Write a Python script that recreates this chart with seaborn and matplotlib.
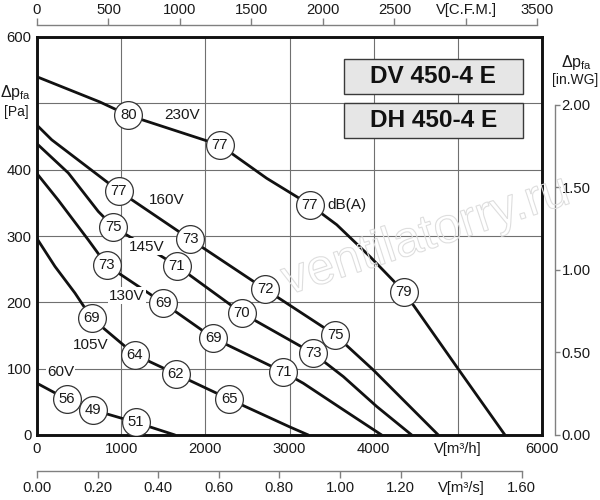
import numpy as np
import pandas as pd
import matplotlib
matplotlib.use("Agg")
import matplotlib.pyplot as plt
import seaborn as sns
from matplotlib.patches import Rectangle, PathPatch
from matplotlib.textpath import TextPath
from matplotlib.font_manager import FontProperties
from matplotlib.transforms import Affine2D, IdentityTransform

# ---------------- data ----------------
v_230 = [0, 748, 1085, 2174, 2729, 3243, 3561, 3956, 4360, 5002, 5560]
p_230 = [540, 502, 482, 437, 387, 347, 317, 269, 216, 100, 0]

v_160 = [0, 175, 971, 1821, 2709, 3541, 3996, 4768]
p_160 = [467, 445, 368, 295, 220, 151, 98, 0]

v_145 = [0, 372, 728, 907, 1663, 2432, 3283, 3640, 4036, 4452]
p_145 = [439, 395, 337, 314, 255, 184, 123, 88, 43, 0]

v_130 = [0, 253, 610, 828, 1501, 2095, 2926, 3164, 3640, 4095]
p_130 = [394, 354, 294, 256, 199, 146, 95, 78, 38, 0]

v_105 = [0, 214, 451, 650, 1164, 1651, 2285, 3006, 3224]
p_105 = [296, 254, 214, 176, 121, 92, 54, 12, 0]

v_60 = [0, 352, 661, 1176, 1640]
p_60 = [78, 54, 38, 19, 0]

# noise level markers (dB(A)) on the curves
mark_v = [1085, 2174, 3243, 4360,
          971, 1821, 2709, 3541,
          907, 1663, 2432, 3283,
          828, 1501, 2095, 2926,
          650, 1164, 1651, 2285,
          352, 661, 1176]
mark_p = [482, 437, 347, 216,
          368, 295, 220, 151,
          314, 255, 184, 123,
          256, 199, 146, 95,
          176, 121, 92, 54,
          54, 38, 19]
mark_db = ["80", "77", "77", "79",
           "77", "73", "72", "75",
           "75", "71", "70", "73",
           "73", "69", "69", "71",
           "69", "64", "62", "65",
           "56", "49", "51"]

volt_labels = ["230V", "160V", "145V", "130V", "105V", "60V"]
volt_v = [1729, 1545, 1307, 1065, 642, 279]
volt_p = [482, 354, 284, 210, 135, 94.5]

x_ticks = [0, 1000, 2000, 3000, 4000, 5000, 6000]
x_ticklabels = ["0", "1000", "2000", "3000", "4000", "V[m³/h]", "6000"]
y_ticks = [0, 100, 200, 300, 400, 500, 600]
y_ticklabels = ["0", "100", "200", "300", "400", "", "600"]
cfm_ticks = [0, 500, 1000, 1500, 2000, 2500, 3000, 3500]
cfm_ticklabels = ["0", "500", "1000", "1500", "2000", "2500", "V[C.F.M.]", "3500"]
ms_ticks = [0.0, 0.2, 0.4, 0.6, 0.8, 1.0, 1.2, 1.4, 1.6]
ms_ticklabels = ["0.00", "0.20", "0.40", "0.60", "0.80", "1.00", "1.20", "V[m³/s]", "1.60"]
wg_ticks = [0.0, 0.5, 1.0, 1.5, 2.0]
wg_ticklabels = ["0.00", "0.50", "1.00", "1.50", "2.00"]
models = ["DV 450-4 E", "DH 450-4 E"]

# ---------------- style ----------------
sns.set_style("white")
plt.rcParams["font.family"] = ["Liberation Sans", "DejaVu Sans"]
plt.rcParams["mathtext.fontset"] = "custom"
plt.rcParams["mathtext.rm"] = "Liberation Sans"
plt.rcParams["mathtext.it"] = "Liberation Sans:italic"
plt.rcParams["mathtext.bf"] = "Liberation Sans:bold"

TXT = "#1a1a1a"
GRID = "#707070"
AXG = "#808080"
FS = 10.7

curves = {"230V": (v_230, p_230), "160V": (v_160, p_160), "145V": (v_145, p_145),
          "130V": (v_130, p_130), "105V": (v_105, p_105), "60V": (v_60, p_60)}
rows = []
for name, (vv, pp) in curves.items():
    for a, b in zip(vv, pp):
        rows.append({"curve": name, "V": a, "P": b})
df = pd.DataFrame(rows)
marks = pd.DataFrame({"V": mark_v, "P": mark_p, "db": mark_db})

fig = plt.figure(figsize=(6, 5), dpi=100)
ax = fig.add_axes([37 / 600, 65 / 500, 505 / 600, 398 / 500])

sns.lineplot(data=df, x="V", y="P", hue="curve",
             palette={k: "#111111" for k in curves}, sort=False, estimator=None,
             linewidth=2.0, legend=False, ax=ax, zorder=2)
sns.scatterplot(data=marks, x="V", y="P", s=400, color="white",
                edgecolor="#333333", linewidth=0.9, ax=ax, zorder=3, legend=False)
for a, b, t in zip(mark_v, mark_p, mark_db):
    ax.text(a, b, t, ha="center", va="center", fontsize=FS, color=TXT, zorder=4)

for t, a, b in zip(volt_labels, volt_v, volt_p):
    ax.text(a, b, t, ha="center", va="center", fontsize=11, color=TXT, zorder=4,
            bbox=dict(boxstyle="square,pad=0.08", fc="white", ec="none"))
ax.text(3683, 347, "dB(A)", ha="center", va="center", fontsize=11, color=TXT, zorder=4,
        bbox=dict(boxstyle="square,pad=0.05", fc="white", ec="none"))

ax.set_xlim(0, 6000)
ax.set_ylim(0, 600)
ax.set_xticks(x_ticks)
ax.set_xticklabels(x_ticklabels)
ax.set_yticks(y_ticks)
ax.set_yticklabels(y_ticklabels)
ax.set_xlabel("")
ax.set_ylabel("")
ax.tick_params(axis="both", length=0, labelsize=FS, labelcolor=TXT)
ax.tick_params(axis="x", pad=5)
ax.tick_params(axis="y", pad=4)
ax.grid(True, color=GRID, linewidth=0.8)
ax.set_axisbelow(True)
for s in ax.spines.values():
    s.set_visible(True)
    s.set_color("#111111")
    s.set_linewidth(2.1)

# model boxes
for i, m in enumerate(models):
    y0 = [0.857, 0.746][i]
    ax.add_patch(Rectangle((0.608, y0), 0.354, 0.088, transform=ax.transAxes,
                           facecolor="#e6e6e6", edgecolor="#3a3a3a", linewidth=1.0, zorder=5))
    ax.text(0.785, y0 + 0.044, m, transform=ax.transAxes, ha="center", va="center",
            fontsize=17.6, fontweight="bold", color="#111111", zorder=6)

# top CFM axis
axt = ax.twiny()
axt.set_xlim(0, 6000 / 1.699)
axt.set_xticks(cfm_ticks)
axt.set_xticklabels(cfm_ticklabels)
for k in ["bottom", "left", "right"]:
    axt.spines[k].set_visible(False)
axt.spines["top"].set_position(("outward", 8.6))
axt.spines["top"].set_bounds(0, 3500)
axt.spines["top"].set_color(AXG)
axt.spines["top"].set_linewidth(1.0)
axt.tick_params(axis="x", direction="out", length=5, width=1, color=AXG,
                labelsize=FS, labelcolor=TXT, pad=1)

# bottom m3/s axis
axb = ax.twiny()
axb.xaxis.set_ticks_position("bottom")
axb.xaxis.set_label_position("bottom")
axb.set_xlim(0, 6000 / 3600)
axb.set_xticks(ms_ticks)
axb.set_xticklabels(ms_ticklabels)
for k in ["top", "left", "right"]:
    axb.spines[k].set_visible(False)
axb.spines["bottom"].set_visible(True)
axb.spines["bottom"].set_position(("outward", 25.9))
axb.spines["bottom"].set_bounds(0, 1.6)
axb.spines["bottom"].set_color(AXG)
axb.spines["bottom"].set_linewidth(1.0)
axb.tick_params(axis="x", direction="out", length=5, width=1, color=AXG,
                labelsize=FS, labelcolor=TXT, pad=2)

# right in.WG axis
axr = ax.twinx()
axr.set_ylim(0, 600 / 249.089)
axr.set_yticks(wg_ticks)
axr.set_yticklabels(wg_ticklabels)
for k in ["top", "left", "bottom"]:
    axr.spines[k].set_visible(False)
axr.spines["right"].set_visible(True)
axr.spines["right"].set_position(("outward", 9.4))
axr.spines["right"].set_bounds(0, 2.0)
axr.spines["right"].set_color(AXG)
axr.spines["right"].set_linewidth(1.0)
axr.tick_params(axis="y", direction="out", length=3.6, width=1, color=AXG,
                labelsize=FS, labelcolor=TXT, pad=1)

# axis titles
fig.text(16 / 600, 1 - 93 / 500, r"Δp$_{\mathrm{fa}}$", ha="center", va="center",
         fontsize=11.5, color=TXT)
fig.text(16 / 600, 1 - 112 / 500, "[Pa]", ha="center", va="center", fontsize=10, color=TXT)
fig.text(577 / 600, 1 - 62 / 500, r"Δp$_{\mathrm{fa}}$", ha="center", va="center",
         fontsize=11.5, color=TXT)
fig.text(575 / 600, 1 - 80 / 500, "[in.WG]", ha="center", va="center", fontsize=10, color=TXT)

# faint outlined watermark
tp = TextPath((0, 0), "ventilatorry.ru", size=50, prop=FontProperties(family="Liberation Sans"))
tr = Affine2D().rotate_deg(18).translate(288, 500 - 295) + IdentityTransform()
fig.patches.append(PathPatch(tp, transform=tr, facecolor="none", edgecolor="#dedede",
                             linewidth=0.8, zorder=1))

fig.savefig("out.png", dpi=100, facecolor="white")
